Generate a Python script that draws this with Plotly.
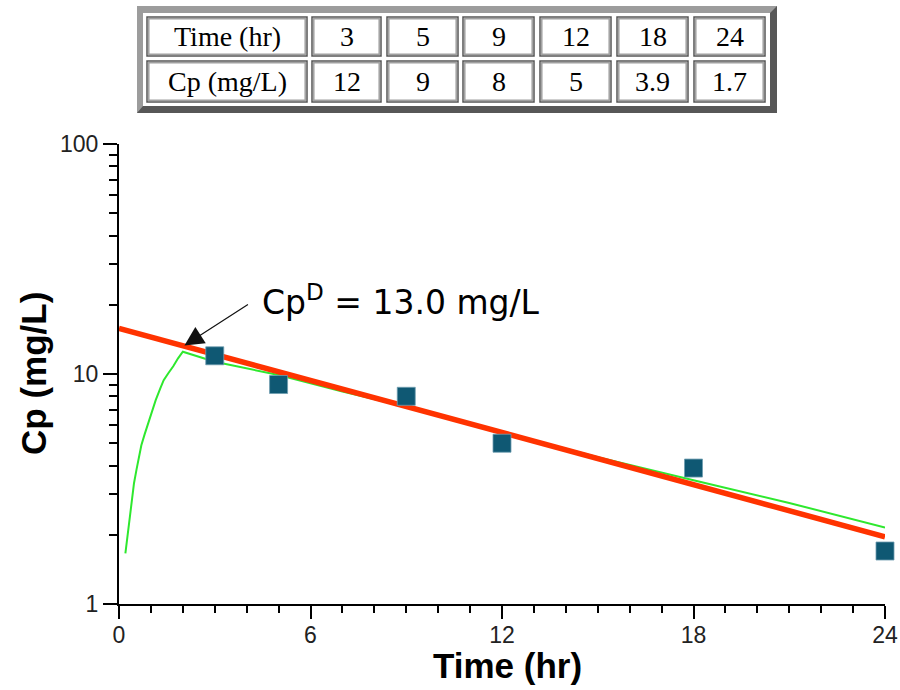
import math
import plotly.graph_objects as go

# ---------------- data ----------------
time_hr = [3, 5, 9, 12, 18, 24]
cp_mg_l = [12, 9, 8, 5, 3.9, 1.7]
cp_labels = ["12", "9", "8", "5", "3.9", "1.7"]

fit_time = [0, 24]
fit_cp = [15.8, 1.96]

model_time = [0.2, 0.25, 0.3, 0.35, 0.4, 0.47, 0.55, 0.62, 0.7, 0.8, 0.9, 1.0, 1.15, 1.3, 1.4,
              1.55, 1.7, 1.85, 2.0, 3.0, 5.0, 7.0, 9.0, 12.0, 15.0, 18.0, 21.0, 24.0]
model_cp = [1.66, 1.9, 2.17, 2.55, 2.93, 3.35, 3.85, 4.4, 4.9, 5.45, 6.0, 6.7, 7.7, 8.7, 9.4,
            10.1, 10.8, 11.7, 12.5, 11.3, 9.9, 8.4, 7.2, 5.6, 4.35, 3.45, 2.75, 2.15]

cpd_time = 2.05
cpd_value = 13.3
cpd_text = "Cp<sup>D</sup> = 13.0 mg/L"

x_ticks = [0, 6, 12, 18, 24]
y_ticks = [1, 10, 100]
y_minor = [2, 3, 4, 5, 6, 7, 8, 9, 20, 30, 40, 50, 60, 70, 80, 90]

# ---------------- layout helpers ----------------
W, H = 900, 690
L, R, T, B = 119, 15, 144, 86
PW, PH = W - L - R, H - T - B
PLOT_LEFT, PLOT_BOTTOM = L, H - B


def px(x):
    return (x - PLOT_LEFT) / PW


def py(y):
    return (PLOT_BOTTOM - y) / PH


fig = go.Figure()

fig.add_trace(go.Scatter(
    x=model_time, y=model_cp, mode="lines",
    line=dict(color="#2ee82e", width=2), hoverinfo="skip", showlegend=False))

fig.add_trace(go.Scatter(
    x=fit_time, y=fit_cp, mode="lines",
    line=dict(color="#ff3300", width=5.5), hoverinfo="skip", showlegend=False,
    cliponaxis=False))

fig.add_trace(go.Scatter(
    x=time_hr, y=cp_mg_l, mode="markers",
    marker=dict(symbol="square", size=18, color="#0f5873",
                line=dict(color="#6f9db0", width=0.8)),
    showlegend=False, cliponaxis=False))

tickfont = dict(family="Liberation Sans, Arial, sans-serif", size=23, color="#222222")

fig.update_xaxes(
    range=[0, 24], tickvals=x_ticks, ticktext=[str(v) for v in x_ticks],
    showline=True, linecolor="black", linewidth=2,
    ticks="outside", ticklen=13, tickwidth=2, tickcolor="black",
    minor=dict(dtick=1, ticks="outside", ticklen=7, tickwidth=2, tickcolor="black"),
    showgrid=False, zeroline=False, tickfont=tickfont, automargin=False,
    ticklabelstandoff=-4)

fig.update_yaxes(
    type="log", range=[0, 2], tickvals=y_ticks, ticktext=[str(v) for v in y_ticks],
    showline=True, linecolor="black", linewidth=2,
    ticks="outside", ticklen=14, tickwidth=2, tickcolor="black",
    minor=dict(tickvals=y_minor, ticks="outside", ticklen=8, tickwidth=2, tickcolor="black"),
    showgrid=False, zeroline=False, tickfont=tickfont, automargin=False)

annotations = []
shapes = []

# axis titles
title_font = dict(family="Liberation Sans, Arial, sans-serif", size=35, color="black")
annotations.append(dict(xref="paper", yref="paper", x=px(507), y=py(665),
                        text="<b>Time (hr)</b>", showarrow=False, font=title_font,
                        xanchor="center", yanchor="middle"))
annotations.append(dict(xref="paper", yref="paper", x=px(33), y=py(374),
                        text="<b>Cp (mg/L)</b>", showarrow=False, font=title_font,
                        textangle=-90, xanchor="center", yanchor="middle"))

# CpD arrow and label
annotations.append(dict(x=cpd_time, y=math.log10(cpd_value), xref="x", yref="y",
                        text="", showarrow=True, ax=65, ay=-42,
                        arrowhead=2, arrowsize=3.2, arrowwidth=1.2, arrowcolor="#111111",
                        standoff=0))
annotations.append(dict(xref="paper", yref="paper", x=px(401), y=py(300),
                        text=cpd_text, showarrow=False,
                        font=dict(family="DejaVu Sans, sans-serif", size=33, color="black"),
                        xanchor="center", yanchor="middle"))

# ---------------- data table ----------------
# bevelled frame
shapes.append(dict(type="rect", xref="paper", yref="paper",
                   x0=px(137), x1=px(777), y0=py(113), y1=py(6),
                   fillcolor="#9c9c9c", line=dict(width=0), layer="above"))
shapes.append(dict(type="path", xref="paper", yref="paper",
                   path=(f"M {px(137)} {py(113)} L {px(777)} {py(113)} L {px(777)} {py(6)} "
                         f"L {px(770)} {py(13)} L {px(770)} {py(106)} L {px(143)} {py(106)} Z"),
                   fillcolor="#575757", line=dict(width=0), layer="above"))
shapes.append(dict(type="rect", xref="paper", yref="paper",
                   x0=px(143), x1=px(770), y0=py(106), y1=py(13),
                   fillcolor="white", line=dict(width=0), layer="above"))

col_edges = [(147, 307), (312, 381), (387, 458), (463, 534), (540, 611), (617, 688), (694, 765)]
row_edges = [(17, 56), (61, 102)]
row_cells = [["Time (hr)"] + [str(t) for t in time_hr],
             ["Cp (mg/L)"] + cp_labels]

cell_font = dict(family="Liberation Serif, Times New Roman, serif", size=28, color="black")
for r, (ry0, ry1) in enumerate(row_edges):
    for c, (cx0, cx1) in enumerate(col_edges):
        shapes.append(dict(type="rect", xref="paper", yref="paper",
                           x0=px(cx0), x1=px(cx1), y0=py(ry1), y1=py(ry0),
                           fillcolor="white", line=dict(color="#555555", width=1.5), layer="above"))
        shapes.append(dict(type="rect", xref="paper", yref="paper",
                           x0=px(cx0 + 1.8), x1=px(cx1 - 1.8), y0=py(ry1 - 1.8), y1=py(ry0 + 1.8),
                           fillcolor="rgba(0,0,0,0)", line=dict(color="#a0a0a0", width=1.5), layer="above"))
        annotations.append(dict(xref="paper", yref="paper",
                                x=px((cx0 + cx1) / 2), y=py((ry0 + ry1) / 2 + 0.5),
                                text=row_cells[r][c], showarrow=False, font=cell_font,
                                xanchor="center", yanchor="middle"))

fig.update_layout(
    width=W, height=H,
    margin=dict(l=L, r=R, t=T, b=B, pad=0, autoexpand=False),
    paper_bgcolor="white", plot_bgcolor="white",
    showlegend=False,
    annotations=annotations, shapes=shapes,
)

# remove the browser's default 8px page margin so the 900x690 figure fills the window
fig.write_html("out.html",
               config={"displayModeBar": False},
               post_script="document.body.style.margin='0px';document.body.style.overflow='hidden';")
